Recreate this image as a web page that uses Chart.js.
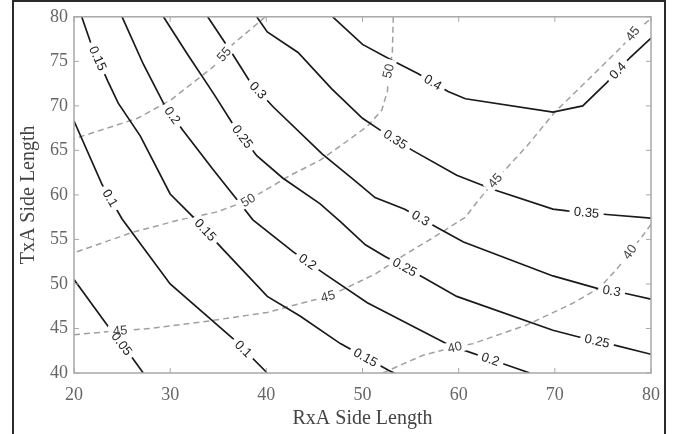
<!DOCTYPE html>
<html><head><meta charset="utf-8">
<script src="https://cdn.jsdelivr.net/npm/chart.js@4.4.0/dist/chart.umd.min.js"></script>
<style>html,body{margin:0;padding:0;background:#fff}canvas{display:block}</style>
</head><body>
<canvas id="c" width="679" height="434"></canvas>
<script>
// ---- data ----
const xTicks = [20, 30, 40, 50, 60, 70, 80];
const yTicks = [40, 45, 50, 55, 60, 65, 70, 75, 80];

// solid contours (level, [x, y] points) and label anchors
const c005 = [[20,50.5],[23.5,45.3],[26.0,41.8],[27.2,40]];
const lab005 = [[24.5,42.9]];
const c010 = [[20,68.3],[22.9,61.2],[25.0,57.3],[30.0,50.0],[36.5,43.9],[40.1,40]];
const lab010 = [[23.7,59.6],[37.6,42.7]];
const c015 = [[20.8,80],[21.7,77.2],[23.5,72.8],[24.6,70.3],[26.9,66.6],[30.0,60.1],[32.4,57.5],[35.4,54.0],[40.1,48.6],[43.5,46.4],[47.7,43.3],[52.7,40.3],[53.3,40]];
const lab015 = [[22.4,75.3],[33.6,56.0],[50.3,41.7]];
const c020 = [[25.0,80],[27.2,74.7],[29.3,70.3],[31.3,67.3],[34.5,62.8],[37.0,59.4],[38.6,57.2],[42.8,53.6],[46.1,51.1],[50.5,47.9],[59.1,43.1],[65.0,40.9],[67.4,40]];
const lab020 = [[30.2,68.9],[44.3,52.5],[63.3,41.5]];
const c025 = [[29.3,80],[31.8,75.8],[34.5,71.4],[36.5,68.0],[39.0,64.4],[41.7,61.9],[45.6,59.0],[47.7,57.0],[50.3,54.4],[52.3,53.1],[56.2,50.8],[59.8,48.6],[69.8,44.8],[72.3,44.1],[76.3,43.1],[80,42.1]];
const lab025 = [[37.6,66.6],[54.4,51.9],[74.4,43.6]];
const c030 = [[33.9,80],[36.5,75.8],[38.3,72.7],[40.7,69.9],[45.8,64.6],[49.2,61.6],[51.3,59.7],[54.4,58.4],[57.8,56.3],[60.5,54.7],[69.8,50.9],[74.4,49.5],[77.5,48.9],[80,48.3]];
const lab030 = [[39.0,71.6],[56.0,57.3],[75.9,49.2]];
const c035 = [[39.0,80],[40.1,78.3],[43.3,76.0],[46.8,71.9],[50.0,68.6],[51.8,67.3],[55.2,65.0],[59.8,62.2],[63.6,60.6],[69.8,58.4],[71.3,58.2],[75.4,57.8],[80,57.4]];
const lab035 = [[53.4,66.2],[73.3,58.0]];
const c040 = [[46.9,80],[50.0,76.9],[53.1,75.1],[55.8,73.6],[58.9,71.6],[60.7,70.8],[69.8,69.3],[72.9,70.0],[75.4,72.6],[77.8,75.4],[80,77.6]];
const lab040 = [[57.3,72.6],[76.6,73.9]];

// dashed contours
const d40 = [[52.1,40],[56.3,42.0],[59.6,42.9],[61.5,43.3],[67.1,45.4],[71.8,47.8],[74.7,49.6],[76.7,52.0],[77.8,53.6],[79.2,55.5],[80,56.7]];
const labd40 = [[59.6,42.9],[77.8,53.6]];
const d45 = [[20,44.3],[25.3,44.8],[27.9,45.0],[33.1,45.7],[40.1,46.8],[43.5,47.8],[46.4,48.6],[48.2,49.5],[51.3,51.1],[54.4,53.3],[57.2,55.1],[60.7,57.5],[62.2,59.6],[63.8,61.6],[67.1,65.5],[70.0,69.3],[74.0,73.5],[77.1,76.8],[78.1,78.1],[80,79.8]];
const labd45 = [[24.8,44.7],[46.4,48.6],[63.8,61.6],[78.1,78.1]];
const d50 = [[53.2,80],[53.1,75.8],[52.7,73.9],[52.6,71.7],[52.0,69.5],[50.5,67.7],[47.7,65.5],[45.6,63.9],[42.5,62.2],[38.1,59.4],[34.9,58.1],[31.0,57.2],[26.1,55.8],[20,53.5]];
const labd50 = [[52.7,73.9],[38.1,59.4]];
const d55 = [[39.9,80],[36.5,76.9],[34.5,74.4],[30.0,70.6],[26.6,68.6],[20,66.3]];
const labd55 = [[35.6,75.8]];

const solidLevels = ['0.05','0.1','0.15','0.2','0.25','0.3','0.35','0.4'];
const solidLines = [c005,c010,c015,c020,c025,c030,c035,c040];
const solidLabels = [lab005,lab010,lab015,lab020,lab025,lab030,lab035,lab040];
const dashedLevels = ['40','45','50','55'];
const dashedLines = [d40,d45,d50,d55];
const dashedLabels = [labd40,labd45,labd50,labd55];

// ---- build chart ----
const toXY = arr => arr.map(p => ({x:p[0], y:p[1]}));
const datasets = [];
solidLines.forEach((l,i) => datasets.push({
  label: solidLevels[i], data: toXY(l), showLine: true, pointRadius: 0,
  borderColor: '#1a1a1a', borderWidth: 1.7, tension: 0,
  contourLabels: solidLabels[i], labelColor: '#222'
}));
dashedLines.forEach((l,i) => datasets.push({
  label: dashedLevels[i], data: toXY(l), showLine: true, pointRadius: 0,
  borderColor: '#a0a0a0', borderWidth: 1.5, borderDash: [6,4], tension: 0,
  contourLabels: dashedLabels[i], labelColor: '#444'
}));

const deco = {
  id: 'deco',
  beforeDraw(chart) {
    const {ctx, width, height} = chart;
    ctx.save();
    ctx.fillStyle = '#fff'; ctx.fillRect(0, 0, width, height);
    ctx.strokeStyle = '#2a2a2a'; ctx.lineWidth = 2;
    ctx.beginPath(); ctx.moveTo(13, height); ctx.lineTo(13, 1); ctx.lineTo(665, 1); ctx.lineTo(665, height); ctx.stroke();
    ctx.restore();
  },
  afterDatasetsDraw(chart) {
    const {ctx, chartArea: a, scales: {x, y}} = chart;
    ctx.save();
    ctx.font = '13px "Liberation Sans", Arial, sans-serif';
    ctx.textAlign = 'center'; ctx.textBaseline = 'middle';
    const items = [];
    chart.data.datasets.forEach(ds => {
      const pts = ds.data.map(p => [x.getPixelForValue(p.x), y.getPixelForValue(p.y)]);
      (ds.contourLabels || []).forEach(lp => {
        const px = x.getPixelForValue(lp[0]), py = y.getPixelForValue(lp[1]);
        let best = null;
        for (let i = 0; i < pts.length - 1; i++) {
          const [x1,y1] = pts[i], [x2,y2] = pts[i+1];
          const dx = x2-x1, dy = y2-y1, L2 = dx*dx+dy*dy || 1;
          let t = ((px-x1)*dx + (py-y1)*dy) / L2; t = Math.max(0, Math.min(1, t));
          const qx = x1+t*dx, qy = y1+t*dy, d = Math.hypot(px-qx, py-qy);
          if (!best || d < best.d) best = {d, qx, qy, ang: Math.atan2(dy, dx)};
        }
        let ang = best.ang;
        if (ang > Math.PI/2) ang -= Math.PI;
        if (ang < -Math.PI/2) ang += Math.PI;
        items.push({x: best.qx, y: best.qy, ang, text: ds.label, color: ds.labelColor});
      });
    });
    items.forEach(it => {
      const w = ctx.measureText(it.text).width + 9;
      ctx.save(); ctx.translate(it.x, it.y); ctx.rotate(it.ang);
      ctx.fillStyle = '#fff'; ctx.fillRect(-w/2, -6, w, 12);
      ctx.restore();
    });
    items.forEach(it => {
      ctx.save(); ctx.translate(it.x, it.y); ctx.rotate(it.ang);
      ctx.fillStyle = it.color; ctx.fillText(it.text, 0, 0.5);
      ctx.restore();
    });
    // axes box and inward ticks
    ctx.strokeStyle = '#a8a8a8'; ctx.lineWidth = 1.5;
    ctx.strokeRect(a.left, a.top, a.right - a.left, a.bottom - a.top);
    ctx.lineWidth = 1;
    ctx.beginPath();
    xTicks.forEach(v => {
      const p = x.getPixelForValue(v);
      ctx.moveTo(p, a.bottom); ctx.lineTo(p, a.bottom - 5);
      ctx.moveTo(p, a.top); ctx.lineTo(p, a.top + 5);
    });
    yTicks.forEach(v => {
      const p = y.getPixelForValue(v);
      ctx.moveTo(a.left, p); ctx.lineTo(a.left + 5, p);
      ctx.moveTo(a.right, p); ctx.lineTo(a.right - 5, p);
    });
    ctx.stroke();
    ctx.restore();
  }
};

Chart.defaults.font.family = '"Liberation Serif", "Times New Roman", serif';
new Chart(document.getElementById('c'), {
  type: 'scatter',
  data: { datasets },
  options: {
    responsive: false, animation: false,
    layout: { padding: { left: 0, top: 12, right: 28, bottom: 0 } },
    plugins: { legend: { display: false }, tooltip: { enabled: false } },
    scales: {
      x: {
        type: 'linear', min: 20, max: 80,
        afterBuildTicks: s => { s.ticks = xTicks.map(v => ({value: v})); },
        afterFit: s => { s.height = 61; },
        grid: { display: false, drawTicks: false }, border: { display: false },
        ticks: { color: '#666', font: { size: 18 }, padding: 11, maxRotation: 0 },
        title: { display: true, text: 'RxA Side Length', color: '#444', font: { size: 20 }, padding: { top: 0, bottom: 3 } }
      },
      y: {
        type: 'linear', min: 40, max: 80,
        afterBuildTicks: s => { s.ticks = yTicks.map(v => ({value: v})); },
        afterFit: s => { s.width = 74; },
        grid: { display: false, drawTicks: false }, border: { display: false },
        ticks: { color: '#666', font: { size: 18 }, padding: 6 },
        title: { display: true, text: 'TxA Side Length', color: '#444', font: { size: 20 }, padding: { top: 17, bottom: 0 } }
      }
    }
  },
  plugins: [deco]
});
</script>
</body></html>
